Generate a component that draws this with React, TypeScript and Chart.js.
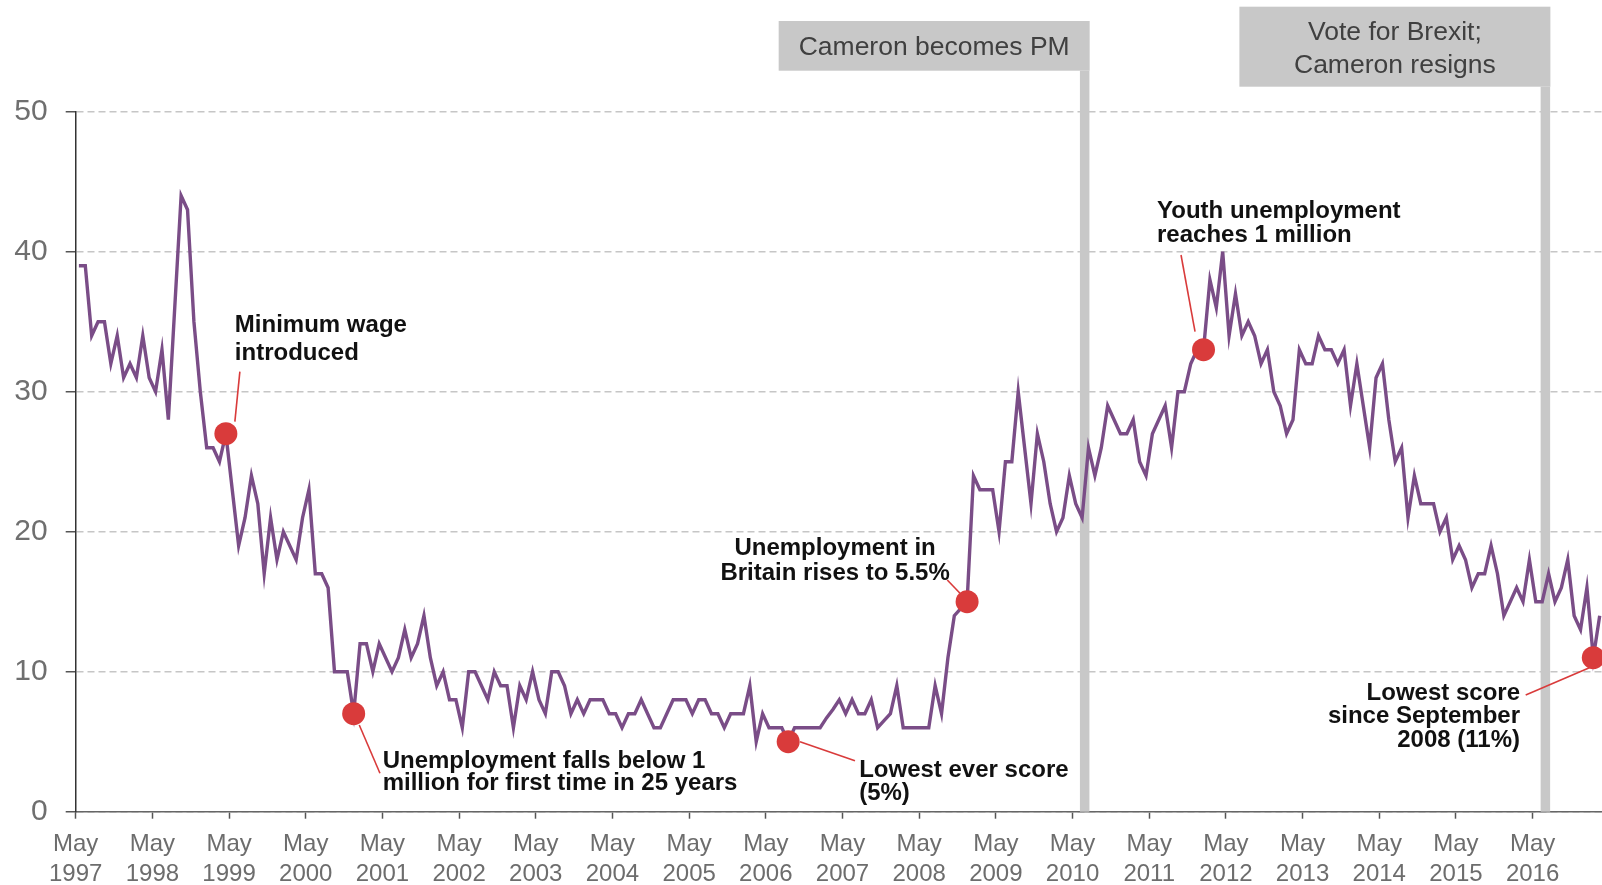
import React, { useEffect, useRef } from 'react';
import { Chart, registerables } from 'chart.js';

Chart.register(...registerables);

// ---- Data -----------------------------------------------------------------
// Monthly share (%) naming unemployment as an important issue, May 1997 onward
const concern: number[] = [
  39, 39, 34, 35, 35, 32, 34, 31, 32, 31, 34, 31, // May97-Apr98
  30, 33, 28, 36, 44, 43, 35, 30, 26, 26, 25, 27, // May98-Apr99
  23, 19, 21, 24, 22, 17, 21, 18, 20, 19, 18, 21, // May99-Apr00
  23, 17, 17, 16, 10, 10, 10, 7, 12, 12, 10, 12, // May00-Apr01
  11, 10, 11, 13, 11, 12, 14, 11, 9, 10, 8, 8, // May01-Apr02
  6, 10, 10, 9, 8, 10, 9, 9, 6, 9, 8, 10, // May02-Apr03
  8, 7, 10, 10, 9, 7, 8, 7, 8, 8, 8, 7, // May03-Apr04
  7, 6, 7, 7, 8, 7, 6, 6, 7, 8, 8, 8, // May04-Apr05
  7, 8, 8, 7, 7, 6, 7, 7, 7, 9, 5, 7, // May05-Apr06
  6, 6, 6, 5, 6, 6, 6, 6, 6, 6.7, 7.3, 8, // May06-Apr07
  7, 8, 7, 7, 8, 6, 6.5, 7, 9, 6, 6, 6, // May07-Apr08
  6, 6, 9, 7, 11, 14, 14.5, 15, 24, 23, 23, 23, // May08-Apr09
  20, 25, 25, 30, 26, 22, 27, 25, 22, 20, 21, 24, // May09-Apr10
  22, 21, 26, 24, 26, 29, 28, 27, 27, 28, 25, 24, // May10-Apr11
  27, 28, 29, 26, 30, 30, 32, 33, 33, 38, 36, 40, // May11-Apr12
  34, 37, 34, 35, 34, 32, 33, 30, 29, 27, 28, 33, // May12-Apr13
  32, 32, 34, 33, 33, 32, 33, 29, 32, 29, 26, 31, // May13-Apr14
  32, 28, 25, 26, 21, 24, 22, 22, 22, 20, 21, 18, // May14-Apr15
  19, 18, 16, 17, 17, 19, 17, 14, 15, 16, 15, 18, // May15-Apr16
  15, 15, 17, 15, 16, 18, 14, 13, 16, 11, 14, // May16-Mar17
];

const xTickLabels: string[][] = [
  ['May', '1997'], ['May', '1998'], ['May', '1999'], ['May', '2000'],
  ['May', '2001'], ['May', '2002'], ['May', '2003'], ['May', '2004'],
  ['May', '2005'], ['May', '2006'], ['May', '2007'], ['May', '2008'],
  ['May', '2009'], ['May', '2010'], ['May', '2011'], ['May', '2012'],
  ['May', '2013'], ['May', '2014'], ['May', '2015'], ['May', '2016'],
];
const monthsPerTick = 12;
const xMaxMonths = 238.86;
const yMin = 0;
const yMax = 50;
const yStep = 10;

// political events (month offset from May 1997) shown as grey bars
const politicalEvents = [
  { month: 157.9, lines: ['Cameron becomes PM'], boxTop: 21, boxBottom: 70.7 },
  { month: 230.0, lines: ['Vote for Brexit;', 'Cameron resigns'], boxTop: 6.7, boxBottom: 86.7 },
];

// highlighted months (index into concern) with their notes
const keyMoments = [
  { index: 23, lines: ['Minimum wage', 'introduced'], align: 'left', dx: 9, dy: -101.7, lineH: 28, leader: [14, -62, 9, -12] },
  { index: 43, lines: ['Unemployment falls below 1', 'million for first time in 25 years'], align: 'left', dx: 29, dy: 54, lineH: 22.5, leader: [5.6, 11.3, 26.3, 59.6] },
  { index: 111, lines: ['Lowest ever score', '(5%)'], align: 'left', dx: 71, dy: 35.6, lineH: 22.5, leader: [11.8, 0, 66.8, 19] },
  { index: 139, lines: ['Unemployment in', 'Britain rises to 5.5%'], align: 'center', dx: -132, dy: -46.7, lineH: 25, leader: [-19.8, -21.7, -7.1, -8.4] },
  { index: 176, lines: ['Youth unemployment', 'reaches 1 million'], align: 'left', dx: -46.5, dy: -131.4, lineH: 23.4, leader: [-22.5, -94.7, -8.5, -18] },
  { index: 237, lines: ['Lowest score', 'since September', '2008 (11%)'], align: 'right', dx: -73.3, dy: 42.3, lineH: 23.3, leader: [-67.6, 37.3, -1.6, 9] },
];

// ---- Styles ----------------------------------------------------------------
const FONT = "'Liberation Sans', Arial, Helvetica, sans-serif";
const LINE_COLOR = '#7a4d87';
const DOT_COLOR = '#d93b3b';
const BAR_COLOR = '#c8c8c8';

const overlayPlugin = {
  id: 'overlay',
  beforeDatasetsDraw(chart: any) {
    const { ctx, scales } = chart;
    const x = scales.x;
    const y = scales.y;
    const bottom = y.getPixelForValue(yMin);
    ctx.save();
    politicalEvents.forEach((ev) => {
      const px = x.getPixelForValue(ev.month);
      ctx.fillStyle = BAR_COLOR;
      ctx.fillRect(px - 4.75, ev.boxBottom, 9.5, bottom - ev.boxBottom);
      const right = px + 5;
      const w = 311;
      ctx.fillRect(right - w, ev.boxTop, w, ev.boxBottom - ev.boxTop);
      ctx.fillStyle = '#404040';
      ctx.font = `26.5px ${FONT}`;
      ctx.textAlign = 'center';
      ctx.textBaseline = 'alphabetic';
      const cx = right - w / 2;
      const cy = (ev.boxTop + ev.boxBottom) / 2;
      const lh = 32.7;
      const first = cy - ((ev.lines.length - 1) * lh) / 2 + 9.5;
      ev.lines.forEach((t, i) => ctx.fillText(t, cx, first + i * lh));
    });
    // leader lines
    ctx.strokeStyle = DOT_COLOR;
    ctx.lineWidth = 1.6;
    keyMoments.forEach((m) => {
      const px = x.getPixelForValue(m.index + 0.5);
      const py = y.getPixelForValue(concern[m.index]);
      ctx.beginPath();
      ctx.moveTo(px + m.leader[0], py + m.leader[1]);
      ctx.lineTo(px + m.leader[2], py + m.leader[3]);
      ctx.stroke();
    });
    ctx.restore();
  },
  afterDatasetsDraw(chart: any) {
    const { ctx, scales } = chart;
    const x = scales.x;
    const y = scales.y;
    ctx.save();
    ctx.fillStyle = '#111111';
    ctx.font = `bold 24px ${FONT}`;
    ctx.textBaseline = 'alphabetic';
    keyMoments.forEach((m) => {
      const px = x.getPixelForValue(m.index + 0.5);
      const py = y.getPixelForValue(concern[m.index]);
      ctx.textAlign = m.align as CanvasTextAlign;
      m.lines.forEach((t, i) => ctx.fillText(t, px + m.dx, py + m.dy + i * m.lineH));
    });
    ctx.restore();
  },
};

export default function App() {
  const canvasRef = useRef<HTMLCanvasElement | null>(null);

  useEffect(() => {
    const canvas = canvasRef.current;
    if (!canvas) return;
    Chart.defaults.font.family = FONT;

    const linePoints = concern.map((v, i) => ({ x: i + 0.5, y: v }));
    const dotPoints = keyMoments.map((m) => ({ x: m.index + 0.5, y: concern[m.index] }));
    const tickValues = xTickLabels.map((_, i) => i * monthsPerTick);

    const chart = new Chart(canvas, {
      type: 'line',
      data: {
        datasets: [
          {
            data: dotPoints,
            showLine: false,
            pointRadius: 11.5,
            pointHoverRadius: 11.5,
            pointBackgroundColor: DOT_COLOR,
            pointBorderWidth: 0,
            order: 0,
          },
          {
            data: linePoints,
            borderColor: LINE_COLOR,
            borderWidth: 3.4,
            pointRadius: 0,
            tension: 0,
            borderJoinStyle: 'miter',
            order: 1,
          },
        ],
      },
      options: {
        responsive: false,
        animation: false,
        devicePixelRatio: 1,
        layout: { autoPadding: false, padding: { top: 111.7, left: 0, right: 0, bottom: 0 } },
        plugins: {
          legend: { display: false },
          tooltip: { enabled: false },
        },
        scales: {
          x: {
            type: 'linear',
            min: 0,
            max: xMaxMonths,
            afterBuildTicks: (scale: any) => {
              scale.ticks = tickValues.map((v) => ({ value: v }));
            },
            afterFit: (scale: any) => {
              scale.height = 73.3;
              scale.paddingLeft = 0;
              scale.paddingRight = 0;
            },
            ticks: {
              autoSkip: false,
              maxRotation: 0,
              minRotation: 0,
              padding: 11,
              color: '#6d6d6d',
              font: { size: 24, lineHeight: 1.25 },
              callback: (_v: any, i: number) => xTickLabels[i],
            },
            grid: {
              drawOnChartArea: false,
              drawTicks: true,
              tickLength: 7,
              tickColor: '#555555',
              tickWidth: 1.5,
              tickBorderDash: [],
            },
            border: { display: true, color: '#666666', width: 1.5 },
          },
          y: {
            type: 'linear',
            min: yMin,
            max: yMax,
            afterFit: (scale: any) => {
              scale.width = 75.7;
              scale.paddingTop = 0;
              scale.paddingBottom = 0;
            },
            ticks: {
              stepSize: yStep,
              padding: 18,
              color: '#6f6f6f',
              font: { size: 30 },
            },
            grid: {
              color: '#c6c6c6',
              lineWidth: 1.5,
              drawTicks: true,
              tickLength: 10,
              tickColor: '#555555',
              tickWidth: 1.5,
              tickBorderDash: [],
            },
            border: { display: true, color: '#333333', width: 1.5, dash: [7, 4] },
          },
        },
      },
      plugins: [overlayPlugin],
    } as any);

    return () => chart.destroy();
  }, []);

  return (
    <div style={{ position: 'fixed', left: 0, top: 0, width: 1602, height: 885, background: '#ffffff', overflow: 'hidden' }}>
      <canvas ref={canvasRef} width={1602} height={885} style={{ width: 1602, height: 885, display: 'block' }} />
    </div>
  );
}
